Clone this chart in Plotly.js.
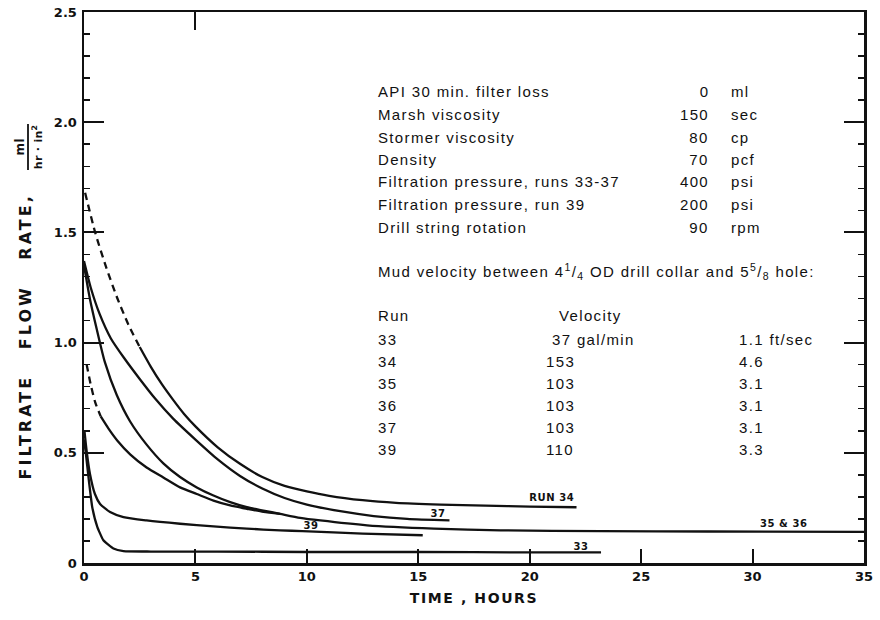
<!DOCTYPE html>
<html>
<head>
<meta charset="utf-8">
<script src="https://cdn.plot.ly/plotly-3.0.1.min.js"></script>
<style>html,body{margin:0;padding:0;background:#fff;}#chart{width:880px;height:620px;}</style>
</head>
<body>
<div id="chart"></div>
<script>
// ---- Data ----
// Run 34 (dashed start, then solid)
const run34DashX = [0.05, 0.5, 1.0, 1.5, 2.0, 2.5];
const run34DashY = [1.68, 1.50, 1.34, 1.20, 1.08, 0.98];
const run34X = [2.5, 3.0, 3.5, 4.0, 4.5, 5.0, 6.0, 7.0, 8.0, 9.0, 10.0, 11.0, 12.5, 14.0, 16.0, 18.0, 20.0, 22.1];
const run34Y = [0.98, 0.89, 0.81, 0.74, 0.675, 0.62, 0.525, 0.45, 0.39, 0.35, 0.325, 0.305, 0.285, 0.273, 0.265, 0.26, 0.256, 0.253];
// Run 37
const run37X = [0.0, 0.3, 0.7, 1.2, 1.8, 2.5, 3.2, 4.0, 5.0, 6.0, 7.0, 8.0, 9.0, 10.0, 11.5, 13.0, 14.5, 16.4];
const run37Y = [1.37, 1.25, 1.13, 1.02, 0.93, 0.835, 0.745, 0.655, 0.56, 0.47, 0.395, 0.338, 0.295, 0.265, 0.235, 0.213, 0.20, 0.193];
// Run 35 (joins run 36 -> "35 & 36")
const run35X = [0.0, 0.27, 0.57, 0.94, 1.47, 2.07, 2.81, 3.56, 4.31, 5.06, 5.81, 6.56, 7.31, 8.05, 8.8, 9.7, 10.6, 12.7, 15.7, 18.7, 23.2, 28.0, 35.0];
const run35Y = [1.35, 1.196, 1.062, 0.91, 0.762, 0.642, 0.537, 0.452, 0.39, 0.343, 0.306, 0.276, 0.253, 0.238, 0.223, 0.205, 0.193, 0.171, 0.156, 0.148, 0.145, 0.143, 0.141];
// Run 36 (dashed start, then solid until it merges with run 35)
const run36DashX = [0.12, 0.3, 0.5, 0.75];
const run36DashY = [0.90, 0.81, 0.73, 0.665];
const run36X = [0.75, 1.1, 1.5, 2.07, 2.81, 3.56, 4.31, 5.06, 5.81, 6.56, 7.31, 8.05, 8.8];
const run36Y = [0.665, 0.61, 0.555, 0.493, 0.433, 0.388, 0.343, 0.313, 0.283, 0.261, 0.246, 0.232, 0.223];
// Run 39
const run39X = [0.02, 0.12, 0.27, 0.49, 0.72, 1.17, 1.77, 2.81, 4.31, 5.81, 7.31, 8.8, 9.8, 12.5, 15.2];
const run39Y = [0.60, 0.508, 0.403, 0.313, 0.268, 0.231, 0.208, 0.193, 0.178, 0.166, 0.156, 0.148, 0.145, 0.133, 0.126];
// Run 33
const run33X = [0.0, 0.08, 0.22, 0.37, 0.6, 0.87, 1.32, 1.77, 3.0, 6.0, 10.0, 15.0, 20.0, 23.2];
const run33Y = [0.56, 0.50, 0.373, 0.253, 0.163, 0.103, 0.066, 0.054, 0.052, 0.052, 0.05, 0.05, 0.048, 0.048];

// Curve labels
const curveLabels = ['RUN 34', '37', '35 & 36', '39', '33'];
const curveLabelX = [21.0, 15.9, 31.4, 10.2, 22.3];
const curveLabelY = [0.296, 0.225, 0.18, 0.17, 0.076];

// Axis ticks
const xTickVals = [0, 5, 10, 15, 20, 25, 30, 35];
const xTickText = ['0', '5', '10', '15', '20', '25', '30', '35'];
const yTickVals = [0, 0.5, 1.0, 1.5, 2.0, 2.5];
const yTickText = ['0', '0.5', '1.0', '1.5', '2.0', '2.5'];

// Mud property table
const propNames = ['API 30 min. filter loss', 'Marsh viscosity', 'Stormer viscosity', 'Density',
  'Filtration pressure, runs 33-37', 'Filtration pressure, run 39', 'Drill string rotation'];
const propValues = ['0', '150', '80', '70', '400', '200', '90'];
const propUnits = ['ml', 'sec', 'cp', 'pcf', 'psi', 'psi', 'rpm'];

// Velocity table
const velNote = 'Mud velocity between 4<sup>1</sup>/<sub>4</sub> OD drill collar and 5<sup>5</sup>/<sub>8</sub> hole:';
const runs = ['33', '34', '35', '36', '37', '39'];
const velGpm = ['37 gal/min', '153', '103', '103', '103', '110'];
const velFps = ['1.1 ft/sec', '4.6', '3.1', '3.1', '3.1', '3.3'];

// ---- Drawing ----
const INK = '#111';
const W = 880, H = 620, ML = 84, MR = 16, MT = 12, MB = 57;
const PW = W - ML - MR, PH = H - MT - MB;
const px = p => (p - ML) / PW;            // pixel -> paper x
const py = p => (H - MB - p) / PH;        // pixel -> paper y

const solid = {color: INK, width: 2.3, shape: 'spline', smoothing: 0.6};
const dashed = {color: INK, width: 2.3, shape: 'spline', smoothing: 0.6, dash: '7px,5px'};
const mk = (x, y, line) => ({x, y, type: 'scatter', mode: 'lines', line, hoverinfo: 'skip'});

const traces = [
  mk(run34DashX, run34DashY, dashed),
  mk(run34X, run34Y, solid),
  mk(run37X, run37Y, solid),
  mk(run35X, run35Y, solid),
  mk(run36DashX, run36DashY, dashed),
  mk(run36X, run36Y, solid),
  mk(run39X, run39Y, solid),
  mk(run33X, run33Y, {color: INK, width: 2.3, shape: 'spline', smoothing: 0.4}),
  {x: [], y: [], xaxis: 'x2', yaxis: 'y2', type: 'scatter', mode: 'lines', hoverinfo: 'skip'}
];

const textFont = {family: 'Liberation Sans, Arial, sans-serif', size: 15, color: INK};
const labFont = {family: 'DejaVu Sans, sans-serif', size: 10, color: INK, weight: 700};
const ann = [];
const spacing = [];   // letter-spacing (px) applied to each annotation after drawing
const addAnn = (a, ls) => { ann.push(a); spacing.push(ls || 0); };

// curve labels (data coordinates)
curveLabels.forEach((t, i) => addAnn({x: curveLabelX[i], y: curveLabelY[i], xref: 'x', yref: 'y',
  text: t, showarrow: false, font: labFont, xanchor: 'center', yanchor: 'middle'}, 0.6));

const TXT_LS = 1.35;
const txt = (xp, yp, t, anchor) => addAnn({x: px(xp), y: py(yp), xref: 'paper', yref: 'paper', text: t,
  showarrow: false, font: textFont, xanchor: anchor, align: anchor, yanchor: 'middle'}, TXT_LS);

// property table
const propTop = 92, propStep = 22.5;
propNames.forEach((t, i) => {
  const yy = propTop + i * propStep;
  txt(376, yy, t, 'left');
  txt(711, yy, propValues[i], 'right');
  txt(729, yy, propUnits[i], 'left');
});
txt(376, 271, velNote, 'left');
txt(376, 315, 'Run', 'left');
txt(557, 315, 'Velocity', 'left');
const runTop = 339, runStep = 22;
runs.forEach((r, i) => {
  const yy = runTop + i * runStep;
  txt(376, yy, r, 'left');
  txt(i === 0 ? 550 : 544, yy, velGpm[i], 'left');
  txt(737, yy, velFps[i], 'left');
});

// y-axis title pieces (rotated)
addAnn({x: px(25), y: py(337), xref: 'paper', yref: 'paper', text: 'FILTRATE   FLOW   RATE,', textangle: -90,
  showarrow: false, font: {family: 'DejaVu Sans, sans-serif', size: 16, color: INK, weight: 700},
  xanchor: 'center', yanchor: 'middle'}, 3);
addAnn({x: px(20), y: py(147), xref: 'paper', yref: 'paper', text: 'ml', textangle: -90,
  showarrow: false, font: {family: 'DejaVu Sans, sans-serif', size: 12, color: INK, weight: 700}, xanchor: 'center', yanchor: 'middle'}, 0.5);
addAnn({x: px(38), y: py(147), xref: 'paper', yref: 'paper', text: 'hr · in<sup>2</sup>', textangle: -90,
  showarrow: false, font: {family: 'DejaVu Sans, sans-serif', size: 11, color: INK, weight: 700}, xanchor: 'center', yanchor: 'middle'}, 0.3);

const shapes = [
  {type: 'line', xref: 'paper', yref: 'paper', x0: px(28), x1: px(28), y0: py(124), y1: py(170), line: {color: INK, width: 1.8}}
];

const tickFont = {family: 'DejaVu Sans, sans-serif', size: 13, color: INK, weight: 700};
const layout = {
  width: W, height: H,
  margin: {l: ML, r: MR, t: MT, b: MB, pad: 0},
  paper_bgcolor: '#fff', plot_bgcolor: '#fff',
  showlegend: false,
  xaxis: {range: [0, 35], tickmode: 'array', tickvals: xTickVals, ticktext: xTickText,
    ticks: 'inside', ticklen: 14, tickwidth: 2, tickcolor: INK,
    showline: true, linewidth: 2.5, linecolor: INK, showgrid: false, zeroline: false,
    tickfont: tickFont,
    title: {text: 'TIME , HOURS', font: {family: 'DejaVu Sans, sans-serif', size: 14, color: INK, weight: 700}, standoff: 10}},
  xaxis2: {overlaying: 'x', side: 'top', range: [0, 35], tickmode: 'array', tickvals: [5],
    ticks: 'inside', ticklen: 18, tickwidth: 2, tickcolor: INK, showticklabels: false,
    showline: true, linewidth: 2.5, linecolor: INK, showgrid: false, zeroline: false},
  yaxis: {range: [0, 2.5], tickmode: 'array', tickvals: yTickVals, ticktext: yTickText,
    ticks: 'inside', ticklen: 20, tickwidth: 2, tickcolor: INK,
    minor: {tickmode: 'linear', tick0: 0, dtick: 0.1, ticks: 'inside', ticklen: 6, tickwidth: 1.5, tickcolor: INK, showgrid: false},
    showline: true, linewidth: 2.5, linecolor: INK, showgrid: false, zeroline: false,
    tickfont: tickFont, ticklabelstandoff: 2},
  yaxis2: {overlaying: 'y', side: 'right', range: [0, 2.5], tickmode: 'array', tickvals: yTickVals,
    ticks: 'inside', ticklen: 20, tickwidth: 2, tickcolor: INK, showticklabels: false,
    minor: {tickmode: 'linear', tick0: 0, dtick: 0.1, ticks: 'inside', ticklen: 6, tickwidth: 1.5, tickcolor: INK, showgrid: false},
    showline: true, linewidth: 2.5, linecolor: INK, showgrid: false, zeroline: false},
  annotations: ann,
  shapes: shapes
};

Plotly.newPlot('chart', traces, layout, {displayModeBar: false, staticPlot: true}).then(gd => {
  // widen the typewriter-like tracking of the original lettering
  gd.querySelectorAll('g.annotation').forEach(g => {
    const i = +g.getAttribute('data-index');
    const t = g.querySelector('text.annotation-text');
    if (t && spacing[i]) t.style.letterSpacing = spacing[i] + 'px';
  });
  const xt = gd.querySelector('text.xtitle');
  if (xt) xt.style.letterSpacing = '1.6px';
});
</script>
</body>
</html>
